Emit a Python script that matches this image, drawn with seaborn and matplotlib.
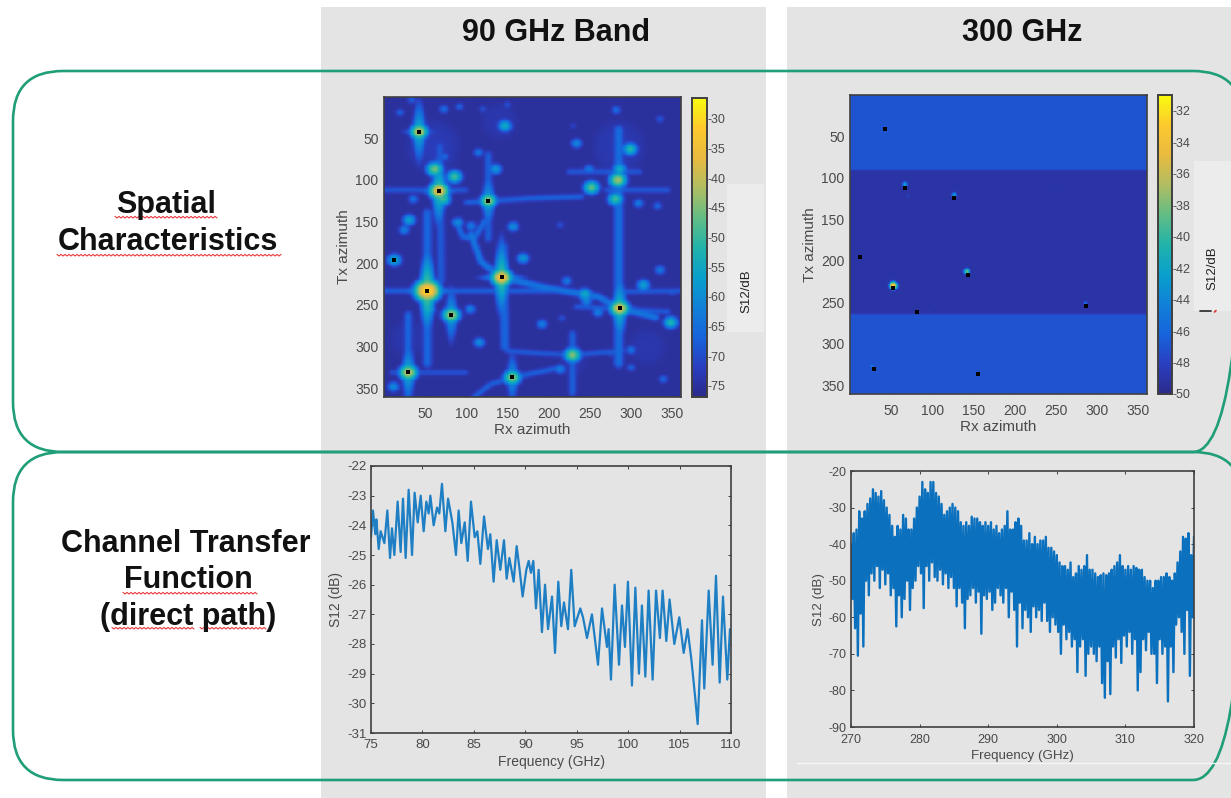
import numpy as np
import pandas as pd
import matplotlib
matplotlib.use("Agg")
import matplotlib.pyplot as plt
from matplotlib.colors import LinearSegmentedColormap
from matplotlib.patches import FancyBboxPatch, Rectangle
import seaborn as sns

W, H = 1231, 798
sns.set_theme(style="white")
plt.rcParams['font.family'] = ['Liberation Sans', 'DejaVu Sans']

# ---- 90 GHz heatmap: azimuths in degrees, levels in dB
peak_rx = [43, 67, 127, 143, 53, 13, 82, 286, 30, 156]
peak_tx = [42, 113, 125, 217, 233, 196, 262, 254, 331, 337]
peak_db = [-36, -32, -39, -30, -27, -53, -39, -34, -37, -41]
peak_sg = [6, 6.5, 6, 6.5, 8, 7, 6.5, 6.5, 6.5, 6.5]

blob_rx = [62, 86, 72, 31, 25, 36, 74, 115, 136, 147, 234, 249, 252, 284, 281, 286, 299, 20, 73, 92, 282,
           335, 309, 332, 214, 157, 90, 106, 169, 335, 315, 222, 244, 246, 234, 260, 105, 192, 216, 348,
           116, 54, 229, 300, 214, 339, 12, 34, 150, 158, 230, 120, 300, 275, 350]
blob_tx = [87, 96, 123, 148, 160, 123, 72, 67, 87, 35, 56, 87, 109, 100, 123, 87, 63, 19, 15, 12, 16,
           27, 128, 131, 154, 156, 151, 155, 194, 208, 226, 221, 237, 245, 252, 259, 255, 273, 266, 271,
           295, 255, 310, 304, 327, 339, 348, 4, 10, 155, 35, 15, 325, 308, 235]
blob_db = [-43, -47, -47, -54, -60, -62, -64, -62, -56, -52, -59, -61, -45, -40, -47, -52, -49, -65, -63, -65, -63,
           -66, -61, -64, -67, -58, -58, -61, -56, -61, -54, -61, -52, -59, -67, -60, -60, -60, -67, -50,
           -58, -52, -42, -62, -60, -64, -58, -65, -67, -61, -69, -67, -65, -67, -67]

ridge_db = [-66, -68, -67, -66, -65, -66, -67, -66, -67, -67, -66, -67, -67, -68, -63, -66, -65, -67, -68]
ridge_w = [7, 7, 6, 7, 7, 6, 6, 4, 4, 4, 4, 4, 4, 4, 4.5, 4, 4.5, 4, 5]
ridge_paths = [
    [(53, 140), (53, 320)], [(68, 60), (70, 220)], [(127, 70), (127, 170)], [(145, 180), (147, 300)],
    [(285, 40), (285, 320)], [(30, 262), (29, 358)], [(229, 285), (229, 355)],
    [(1, 233), (60, 233), (230, 233)], [(290, 234), (359, 233)], [(1, 112), (100, 112)],
    [(100, 127), (180, 122), (240, 120)], [(270, 112), (345, 112)], [(235, 252), (345, 258)],
    [(10, 331), (100, 331)], [(106, 165), (118, 198), (143, 217), (200, 230), (260, 240), (286, 254), (330, 265)],
    [(110, 360), (130, 345), (156, 337), (210, 326)], [(88, 150), (96, 168), (110, 170), (122, 150)],
    [(150, 305), (190, 308), (229, 310), (290, 305)], [(225, 90), (310, 90)],
]
wash_rx = [60, 140, 285, 30, 320, 230]
wash_tx = [60, 30, 60, 290, 300, 320]
wash_db = [-72.5, -73.5, -73, -73.5, -73.5, -74]
wash_sg = [45, 40, 50, 40, 40, 35]
floor_90_db = -75.3

# ---- 300 GHz heatmap
band_edges = [0, 90, 264, 360]
band_db = [-47.0, -49.1, -47.1]
halo_rx = [53, 142, 67, 127, 27, 286, 71, 250, 103, 280]
halo_tx = [230, 213, 108, 121, 327, 251, 122, 108, 254, 103]
halo_db = [-33, -38, -42, -42, -43, -44, -46.5, -47.6, -47.8, -48.3]
halo_sg = [4.5, 4, 4, 4, 3, 3, 3, 3, 3, 3]

# ---- 90 GHz transfer function
f90 = [75.00, 75.19, 75.42, 75.52, 75.75, 75.94, 76.30, 76.59, 76.85, 77.04, 77.27, 77.59, 77.88, 78.11, 78.37,
       78.66, 78.99, 79.24, 79.54, 79.83, 80.12, 80.38, 80.61, 80.77, 81.09, 81.42, 81.64, 81.90, 82.23, 82.49,
       82.91, 83.26, 83.52, 83.78, 84.11, 84.40, 84.72, 85.08, 85.34, 85.63, 85.99, 86.37, 86.60, 86.92, 87.22,
       87.57, 87.93, 88.19, 88.45, 88.87, 89.16, 89.45, 89.74, 90.10, 90.33, 90.55, 90.78, 91.04, 91.30, 91.62,
       91.92, 92.21, 92.60, 92.89, 93.21, 93.50, 93.76, 94.15, 94.47, 94.80, 95.35, 95.61, 96.00, 96.48, 97.07,
       97.46, 97.94, 98.10, 98.33, 98.69, 99.11, 99.40, 99.69, 99.98, 100.37, 100.70, 101.05, 101.34, 101.67,
       101.99, 102.38, 102.71, 103.09, 103.35, 103.71, 104.03, 104.49, 104.97, 105.40, 105.78, 106.14, 106.46,
       106.76, 107.18, 107.40, 107.83, 108.21, 108.54, 108.90, 109.22, 109.64, 109.90]
s90 = [-24.4, -23.5, -24.3, -23.8, -24.8, -24.2, -24.6, -23.5, -25.1, -24.1, -25.0, -23.2, -24.9, -23.1, -25.1,
       -22.8, -25.0, -22.9, -23.9, -23.0, -24.2, -23.2, -23.6, -23.0, -24.0, -23.4, -23.6, -22.6, -24.2, -23.1,
       -23.9, -25.0, -23.5, -24.6, -23.9, -25.2, -23.2, -24.4, -24.2, -25.3, -23.7, -24.8, -24.3, -25.9, -24.5,
       -25.5, -24.5, -25.8, -25.1, -25.9, -24.7, -25.5, -26.4, -25.5, -25.2, -25.6, -25.2, -26.8, -25.5, -27.6,
       -26.0, -27.5, -26.4, -28.3, -25.9, -27.4, -26.6, -27.5, -25.5, -27.4, -26.8, -27.1, -27.8, -27.0, -28.7,
       -26.8, -28.1, -27.5, -29.2, -26.0, -28.7, -26.7, -28.1, -25.9, -29.4, -26.1, -29.0, -26.7, -29.1,
       -26.2, -29.2, -26.2, -27.8, -26.2, -27.9, -26.5, -28.0, -27.1, -28.3, -27.5, -28.5, -29.6,
       -30.7, -27.2, -29.5, -26.2, -28.7, -25.7, -29.3, -26.4, -29.2, -27.5]

# ---- 300 GHz transfer function: crest and dip of the trace per 0.4 GHz
s300_upper = [-40, -37, -36, -31, -33, -31, -29, -27.5, -25, -26, -27, -25.5, -28, -30, -32, -35, -38, -35, -36, -32,
              -33, -36, -36, -33, -30, -27, -23, -25, -26, -23, -23, -26, -27, -29, -32, -31, -30, -29, -30, -31,
              -34, -35, -34, -35, -32.5, -33, -33, -34, -35, -34, -35, -34, -36, -35, -37, -36, -35, -31, -36, -36,
              -34, -33, -35, -39, -39, -37, -40, -38, -40, -39, -39, -38, -41, -41, -42, -43, -45, -46, -46, -47,
              -45, -49, -48, -46, -47, -46, -43, -47, -47, -48, -49, -48.5, -48, -48.5, -48, -47, -46, -45, -43, -46,
              -47, -46, -47, -46, -46.5, -47, -47, -49, -50, -50, -52, -50, -50, -49, -49, -48, -49, -50, -48, -45,
              -42, -38, -38.5, -37, -43, -38]
s300_lower = [-55, -63, -70.5, -59, -68, -50, -54, -48, -50, -46, -52, -47, -51, -48, -54, -52, -62.5, -54, -60, -55,
              -50, -58, -52, -50, -46, -48, -57.5, -46, -50, -45, -49, -50, -47, -51, -48, -52, -49, -52, -57, -52,
              -56, -63, -55, -54, -52, -56, -53, -64.5, -54, -55, -53, -58, -56, -52, -54, -56, -52, -60, -53, -58,
              -68, -56, -63, -58, -60, -64, -57, -60, -58, -61, -56, -61, -64, -60, -62, -64, -70, -62, -66, -64,
              -68, -66, -75, -68, -66, -76, -70, -68, -70, -72, -68, -78, -82, -72, -81, -68, -71, -66, -72.5, -65,
              -68, -64, -70, -66, -80, -75, -66, -69, -64, -70, -70, -78, -66, -70, -68, -83, -68, -75, -62, -60,
              -64, -70, -58, -76, -60, -67]

# ---- tick labels
az_ticks = [50, 100, 150, 200, 250, 300, 350]
cb90_ticks = [-30, -35, -40, -45, -50, -55, -60, -65, -70, -75]
cb300_ticks = [-32, -34, -36, -38, -40, -42, -44, -46, -48, -50]
x90_ticks = [75, 80, 85, 90, 95, 100, 105, 110]
y90_ticks = [-22, -23, -24, -25, -26, -27, -28, -29, -30, -31]
x300_ticks = [270, 280, 290, 300, 310, 320]
y300_ticks = [-20, -30, -40, -50, -60, -70, -80, -90]

parula = LinearSegmentedColormap.from_list("parula", [
    "#2b2a8c", "#2a3fc0", "#1764dc", "#1181d8", "#09a0cc", "#21b3aa", "#62bd84",
    "#b0bd62", "#e8ba40", "#fdc92e", "#f9fb0e"])

TXT = "#4a4a4a"
EDGE = "#404040"
fig = plt.figure(figsize=(W / 100, H / 100), dpi=100, facecolor="white")


def px_axes(x0, y0, x1, y1, **kw):
    return fig.add_axes([x0 / W, 1 - y1 / H, (x1 - x0) / W, (y1 - y0) / H], **kw)


bg = px_axes(0, 0, W, H)
bg.axis("off")
bg.add_patch(Rectangle((321, 7), 445, 791, fc="#e4e4e4", ec="none"))
bg.add_patch(Rectangle((787, 7), 444, 791, fc="#e4e4e4", ec="none"))
bg.add_patch(Rectangle((727, 184), 37, 148, fc="#ececec", ec="none"))
bg.add_patch(Rectangle((1194, 161), 37, 150, fc="#ececec", ec="none"))
bg.plot([797, 1231], [763, 763], color="#f6f6f6", lw=1)
for y0, y1 in [(71, 452), (452, 780)]:
    bg.add_patch(FancyBboxPatch((13, y0), 1230, y1 - y0, boxstyle="round,pad=0,rounding_size=50",
                                fc="none", ec="#1f9e78", lw=1.9))
bg.set_xlim(0, W)
bg.set_ylim(H, 0)

bg.text(556, 33, "90 GHz Band", ha="center", va="center", fontsize=22, fontweight="bold", color="#111111")
bg.text(1022, 33, "300 GHz", ha="center", va="center", fontsize=22, fontweight="bold", color="#111111")
for s, x, y in [("Spatial", 166, 205), ("Characteristics", 168, 242), ("Channel Transfer", 186, 544),
                ("Function", 188, 580), ("(direct path)", 188, 617)]:
    bg.text(x, y, s, ha="center", va="center", fontsize=22, fontweight="bold", color="#111111")
for x0, x1, y in [(115, 217, 217), (57, 281, 255), (123, 257, 593), (112, 195, 628), (200, 267, 628)]:
    xs = np.arange(x0, x1 + 1, 2)
    bg.plot(xs, y + np.where(np.arange(xs.size) % 2, 1.0, -0.6), color="#e8383c", lw=0.8)
bg.plot([1200, 1211], [311, 311], color="#333333", lw=1.3)
bg.plot([1214.5, 1216], [312, 310.5], color="#e03030", lw=1.2)

az = np.arange(1, 361)
RX, TX = np.meshgrid(az, az)


def seg_dist(path):
    d = np.full(RX.shape, 1e9)
    for (a, b), (c, e) in zip(path[:-1], path[1:]):
        dx, dy = c - a, e - b
        t = np.clip(((RX - a) * dx + (TX - b) * dy) / (dx * dx + dy * dy), 0, 1)
        d = np.minimum(d, np.hypot(RX - a - t * dx, TX - b - t * dy))
    return d


def glow(field, rx, tx, db, sg):
    d = np.hypot((RX - rx) / 1.2, TX - tx)
    return np.maximum(field, db - 14 * (d / sg) ** 1.5)


def soften(field, sigma):
    k = np.exp(-0.5 * (np.arange(-8, 9) / sigma) ** 2)
    k /= k.sum()
    pad = np.pad(field, 8, mode="edge")
    pad = np.apply_along_axis(lambda v: np.convolve(v, k, mode="same"), 0, pad)
    pad = np.apply_along_axis(lambda v: np.convolve(v, k, mode="same"), 1, pad)
    return pad[8:-8, 8:-8]


# 90 GHz field
F90 = np.full(RX.shape, floor_90_db)
for r, t, d, s in zip(wash_rx, wash_tx, wash_db, wash_sg):
    F90 = np.maximum(F90, d - 4 * (np.hypot(RX - r, TX - t) / s) ** 2)
for p, d, w in zip(ridge_paths, ridge_db, ridge_w):
    F90 = np.maximum(F90, d - 9 * (seg_dist(p) / w) ** 2)
for r, t, d in zip(blob_rx, blob_tx, blob_db):
    F90 = glow(F90, r, t, d, 6.5)
for r, t, d, s in zip(peak_rx, peak_tx, peak_db, peak_sg):
    F90 = glow(F90, r, t, d, s)
    F90 = np.maximum(F90, d - 16 - 0.5 * np.abs(TX - t) - 8 * (np.abs(RX - r) / 6) ** 2)
    F90 = np.maximum(F90, d - 24 - 0.6 * np.abs(RX - r) - 8 * (np.abs(TX - t) / 4) ** 2)
F90 = soften(F90, 1.8)

# 300 GHz field
F300 = np.zeros(RX.shape)
for a, b, d in zip(band_edges[:-1], band_edges[1:], band_db):
    F300[(TX > a) & (TX <= b)] = d
for r, t, d, s in zip(halo_rx, halo_tx, halo_db, halo_sg):
    F300 = np.maximum(F300, d - 8 * (np.hypot(RX - r, TX - t) / s) ** 2)
F300 = soften(F300, 0.9)


def style_heat(ax, cax, cticks):
    ax.set_xticks([v - 0.5 for v in az_ticks], az_ticks, rotation=0)
    ax.set_yticks([v - 0.5 for v in az_ticks], az_ticks, rotation=0)
    ax.set_xlabel("Rx azimuth", fontsize=11, color=TXT, labelpad=1.5)
    ax.set_ylabel("Tx azimuth", fontsize=11, color=TXT, labelpad=3)
    ax.tick_params(left=True, bottom=True, direction="in", length=2.5, width=0.7, color=EDGE,
                   labelsize=10, labelcolor=TXT)
    ax.tick_params(axis="x", pad=7)
    ax.tick_params(axis="y", pad=4)
    for s in ax.spines.values():
        s.set_visible(True)
        s.set_color(EDGE)
        s.set_linewidth(1.2)
    ax.scatter([r - 0.5 for r in peak_rx], [t - 0.5 for t in peak_tx], marker="s", s=10, color="black", zorder=5, lw=0)
    cax.set_yticks(cticks, cticks)
    cax.tick_params(direction="in", length=2.5, width=0.7, color=EDGE, labelsize=9, labelcolor=TXT, pad=0.5,
                    left=False, right=True)
    for s in cax.spines.values():
        s.set_visible(True)
        s.set_color(EDGE)
        s.set_linewidth(1.2)


ax1 = px_axes(384, 97, 681, 397)
cb1 = px_axes(692, 98, 707, 397)
sns.heatmap(pd.DataFrame(F90, index=az, columns=az), ax=ax1, cbar_ax=cb1, cmap=parula, vmin=-76.9, vmax=-26.5,
            xticklabels=False, yticklabels=False, rasterized=True)
style_heat(ax1, cb1, cb90_ticks)
bg.text(746, 291, "S12/dB", rotation=90, ha="center", va="center", fontsize=9.5, color="#222222")

ax2 = px_axes(850, 95, 1147, 394)
cb2 = px_axes(1158, 95, 1172, 394)
sns.heatmap(pd.DataFrame(F300, index=az, columns=az), ax=ax2, cbar_ax=cb2, cmap=parula, vmin=-50, vmax=-31,
            xticklabels=False, yticklabels=False, rasterized=True)
style_heat(ax2, cb2, cb300_ticks)
bg.text(1212, 268, "S12/dB", rotation=90, ha="center", va="center", fontsize=9.5, color="#222222")


def style_line(ax, xt, yt, xl, yl, ts, ls, xpad):
    ax.patch.set_alpha(0)
    ax.set_xlim(*xl)
    ax.set_ylim(*yl)
    ax.set_xticks(xt, xt)
    ax.set_yticks(yt, yt)
    ax.set_xlabel("Frequency (GHz)", fontsize=ls, color=TXT, labelpad=3)
    ax.set_ylabel("S12 (dB)", fontsize=ls, color=TXT, labelpad=3)
    ax.tick_params(direction="in", length=2.5, width=0.7, color=EDGE, labelsize=ts, labelcolor=TXT,
                   top=True, right=True, bottom=True, left=True, pad=3)
    ax.tick_params(axis="x", pad=xpad)
    for s in ax.spines.values():
        s.set_visible(True)
        s.set_color(EDGE)
        s.set_linewidth(1.2)


ax3 = px_axes(371, 466, 731, 733)
sns.lineplot(x=f90, y=s90, ax=ax3, color="#1f7fc4", lw=1.6, sort=False, estimator=None)
style_line(ax3, x90_ticks, y90_ticks, (75, 110), (-31, -22), 9.5, 10, 4)

n = min(len(s300_upper), len(s300_lower))
grid = np.linspace(270, 320, n)
fz = np.column_stack([grid, grid + 0.2]).ravel()
sz = np.column_stack([s300_upper[:n], s300_lower[:n]]).ravel()
ax4 = px_axes(851, 471, 1194, 727)
sns.lineplot(x=fz, y=sz, ax=ax4, color="#0b70bd", lw=1.7, sort=False, estimator=None)
style_line(ax4, x300_ticks, y300_ticks, (270, 320), (-90, -20), 9, 9.6, 5)

fig.savefig("out.png", dpi=100, facecolor="white")
